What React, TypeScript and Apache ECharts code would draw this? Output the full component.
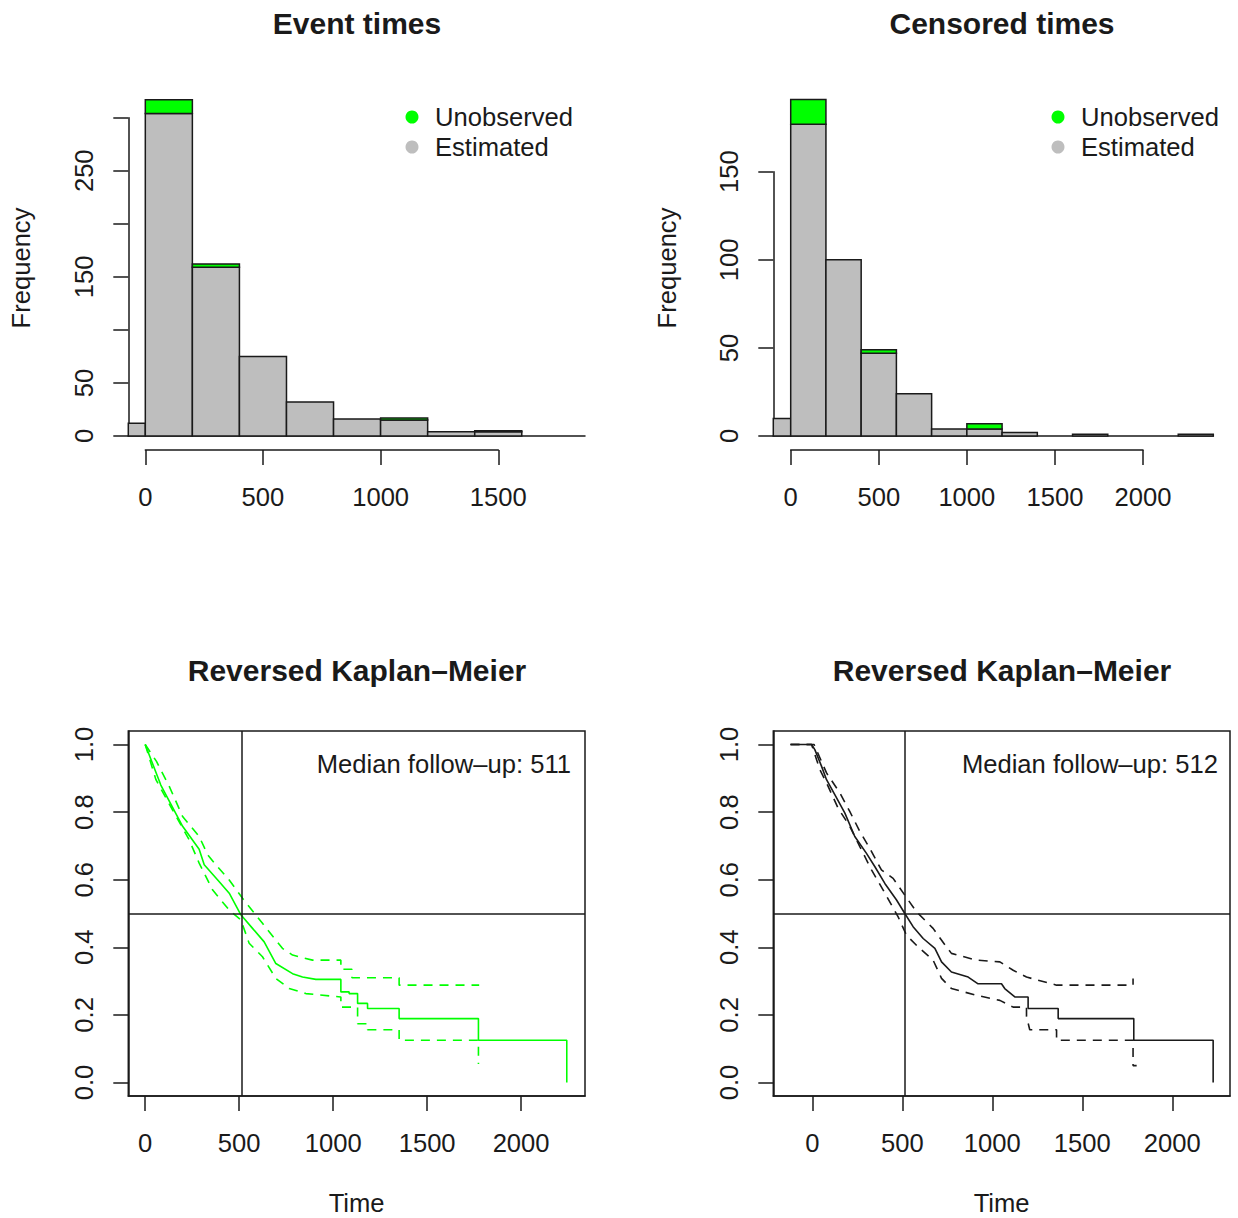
import React, { useEffect, useRef } from 'react';
import * as echarts from 'echarts';

const FONT = '"Liberation Sans", Arial, Helvetica, sans-serif';
const INK = '#1a1a1a';
const GREEN = '#00ff00';
const GREY = '#bebebe';
const FS = 25.6;

// ---------- Histograms (bin width 200) ----------
const BIN_WIDTH = 200;
const eventBinStarts = [-200, 0, 200, 400, 600, 800, 1000, 1200, 1400];
const eventEstimated = [12, 304, 159, 75, 32, 16, 15, 4, 4];
const eventUnobserved = [0, 13, 3, 0, 0, 0, 2, 0, 1];
const eventYLabelsShown = [0, 50, 150, 250];
const eventXTicks = [0, 500, 1000, 1500];

const censBinStarts = [-200, 0, 200, 400, 600, 800, 1000, 1200, 1400, 1600, 1800, 2000, 2200];
const censEstimated = [10, 177, 100, 47, 24, 4, 4, 2, 0, 1, 0, 0, 1];
const censUnobserved = [0, 14, 0, 2, 0, 0, 3, 0, 0, 0, 0, 0, 0];
const censYLabelsShown = [0, 50, 100, 150];
const censXTicks = [0, 500, 1000, 1500, 2000];

// ---------- Reversed Kaplan-Meier curves ----------
const kmXTicks = [0, 500, 1000, 1500, 2000];
const kmYTicks = [0, 0.2, 0.4, 0.6, 0.8, 1.0];

const eventMedian = 511;
const eventKmTime = [0, 83, 199, 287, 314, 394, 447, 509, 571, 633, 695, 784, 837, 908, 1041, 1041, 1085, 1085, 1130, 1130, 1183, 1183, 1351, 1351, 1773, 1773, 2243, 2243];
const eventKmSurv = [1.0, 0.88, 0.758, 0.69, 0.644, 0.594, 0.56, 0.496, 0.456, 0.416, 0.352, 0.322, 0.312, 0.305, 0.305, 0.268, 0.268, 0.263, 0.263, 0.234, 0.234, 0.219, 0.219, 0.189, 0.189, 0.125, 0.125, 0.0];
const eventUpTime = [0, 60, 128, 199, 287, 332, 376, 447, 518, 624, 730, 784, 890, 1041, 1041, 1100, 1100, 1351, 1351, 1777];
const eventUpSurv = [1.0, 0.95, 0.876, 0.787, 0.728, 0.674, 0.644, 0.599, 0.545, 0.471, 0.397, 0.377, 0.362, 0.362, 0.335, 0.335, 0.31, 0.31, 0.288, 0.288];
const eventLoTime = [0, 57, 145, 234, 287, 358, 447, 509, 553, 624, 695, 766, 855, 1041, 1041, 1130, 1130, 1183, 1183, 1351, 1351, 1773, 1773];
const eventLoSurv = [1.0, 0.896, 0.807, 0.718, 0.649, 0.57, 0.51, 0.481, 0.412, 0.372, 0.308, 0.278, 0.263, 0.253, 0.223, 0.223, 0.174, 0.174, 0.156, 0.156, 0.125, 0.125, 0.055];

const censMedian = 512;
const censKmTime = [-121, -4, 14, 51, 79, 125, 181, 236, 301, 347, 403, 468, 514, 560, 616, 681, 718, 773, 866, 921, 1051, 1069, 1125, 1199, 1199, 1366, 1366, 1786, 1786, 2227, 2227];
const censKmSurv = [1.0, 1.0, 0.985, 0.936, 0.896, 0.852, 0.797, 0.728, 0.678, 0.639, 0.589, 0.54, 0.5, 0.461, 0.426, 0.397, 0.357, 0.327, 0.312, 0.292, 0.292, 0.278, 0.253, 0.253, 0.219, 0.219, 0.189, 0.189, 0.125, 0.125, 0.0];
const censUpTime = [-121, 10, 79, 153, 208, 264, 319, 384, 449, 514, 579, 671, 745, 773, 912, 1042, 1116, 1190, 1357, 1782, 1782];
const censUpSurv = [1.0, 1.0, 0.916, 0.857, 0.802, 0.743, 0.693, 0.629, 0.604, 0.554, 0.505, 0.456, 0.401, 0.382, 0.362, 0.357, 0.332, 0.312, 0.288, 0.288, 0.308];
const censLoTime = [-121, -4, 42, 88, 143, 208, 264, 329, 393, 477, 523, 588, 671, 718, 773, 912, 1042, 1116, 1190, 1190, 1208, 1357, 1357, 1782, 1782, 1802];
const censLoSurv = [1.0, 1.0, 0.926, 0.876, 0.812, 0.758, 0.698, 0.629, 0.57, 0.49, 0.436, 0.401, 0.362, 0.308, 0.278, 0.258, 0.243, 0.223, 0.223, 0.196, 0.156, 0.156, 0.125, 0.125, 0.05, 0.05];

const pairs = (t: number[], s: number[]) => t.map((x, i) => [x, s[i]]);

const estRects = (starts: number[], est: number[]) =>
  starts.map((s, i) => [s, s + BIN_WIDTH, 0, est[i]]).filter((d) => d[3] > 0);
const unobsRects = (starts: number[], est: number[], un: number[]) =>
  starts.map((s, i) => [s, s + BIN_WIDTH, est[i], est[i] + un[i]]).filter((d, i) => un[i] > 0);

const histRender = (fill: string) => (params: any, api: any) => {
  const a = api.coord([api.value(0), api.value(2)]);
  const b = api.coord([api.value(1), api.value(3)]);
  const cs = params.coordSys;
  const x0 = Math.max(a[0], cs.x);
  const x1 = Math.min(b[0], cs.x + cs.width);
  return {
    type: 'rect',
    shape: { x: x0, y: b[1], width: x1 - x0, height: a[1] - b[1] },
    style: { fill, stroke: INK, lineWidth: 1.5 },
  };
};

const textStyle = { fontFamily: FONT, fontSize: FS, color: INK };

function App() {
  const ref = useRef<HTMLDivElement>(null);
  useEffect(() => {
    if (!ref.current) return;
    const chart = echarts.init(ref.current, undefined, { renderer: 'svg' });

    const axisLine = { show: true, onZero: false, lineStyle: { color: INK, width: 1.5 } };
    const axisTick = { show: true, length: 15, lineStyle: { color: INK, width: 1.5 } };
    const hidden = { show: false };

    const histMainX = (min: number, max: number, gi: number) => ({
      type: 'value', gridIndex: gi, min, max,
      axisLine,
      axisTick: hidden, axisLabel: hidden, splitLine: hidden,
    });
    const histAxisX = (max: number, gi: number, ticks: number[]) => ({
      type: 'value', gridIndex: gi, min: 0, max, interval: 500, position: 'bottom',
      axisLine, axisTick,
      axisLabel: { ...textStyle, margin: 34, formatter: (v: number) => (ticks.includes(v) ? String(v) : '') },
      splitLine: hidden,
    });
    const histY = (max: number, gi: number, shown: number[]) => ({
      type: 'value', gridIndex: gi, min: 0, max, interval: 50,
      axisLine, axisTick,
      axisLabel: { ...textStyle, rotate: 90, margin: 31.5, formatter: (v: number) => (shown.includes(v) ? String(v) : '') },
      splitLine: hidden,
    });
    const kmX = (min: number, max: number, gi: number) => ({
      type: 'value', gridIndex: gi, min, max,
      name: 'Time', nameLocation: 'middle', nameGap: 94, nameTextStyle: { ...textStyle },
      axisLine,
      axisTick: { ...axisTick, customValues: kmXTicks },
      axisLabel: { ...textStyle, margin: 34, customValues: kmXTicks, formatter: (v: number) => String(v) },
      splitLine: hidden,
    });
    const kmY = (gi: number) => ({
      type: 'value', gridIndex: gi, min: -0.04, max: 1.04,
      axisLine,
      axisTick: { ...axisTick, customValues: kmYTicks },
      axisLabel: { ...textStyle, rotate: 90, margin: 31.5, customValues: kmYTicks, formatter: (v: number) => v.toFixed(1) },
      splitLine: hidden,
    });

    const kmLine = (name: string, idx: number, t: number[], s: number[], color: string, dashed: boolean, median?: number) => ({
      type: 'line', name, xAxisIndex: idx, yAxisIndex: idx,
      data: pairs(t, s), showSymbol: false, symbol: 'none', silent: true,
      lineStyle: { color, width: 1.6, type: dashed ? [9, 7] : 'solid' },
      z: 3,
      ...(median !== undefined
        ? {
            markLine: {
              silent: true, symbol: 'none', label: { show: false },
              lineStyle: { color: INK, width: 1.5, type: 'solid' },
              data: [{ xAxis: median }, { yAxis: 0.5 }],
            },
          }
        : {}),
    });

    const histSeries = (name: string, idx: number, data: number[][], fill: string) => ({
      type: 'custom', name, xAxisIndex: idx, yAxisIndex: idx,
      data, encode: { x: [0, 1], y: [2, 3] }, clip: false,
      itemStyle: { color: fill },
      renderItem: histRender(fill), silent: true, z: 2,
    });

    const legendCfg = (left: number) => ({
      data: ['Unobserved', 'Estimated'], orient: 'vertical', left, top: 104,
      itemWidth: 36, itemHeight: 13, itemGap: 4, icon: 'circle', padding: 0,
      selectedMode: false, textStyle: { ...textStyle },
    });

    const titleText = (text: string, x: number, y: number) => ({
      type: 'text', x, y, silent: true,
      style: { text, align: 'center', verticalAlign: 'middle', fontFamily: FONT, fontSize: 30, fontWeight: 'bold', fill: INK },
    });
    const noteText = (text: string, x: number, y: number) => ({
      type: 'text', x, y, silent: true,
      style: { text, align: 'right', verticalAlign: 'middle', fontFamily: FONT, fontSize: FS, fill: INK },
    });
    const sideText = (text: string, x: number, y: number) => ({
      type: 'text', x, y, rotation: Math.PI / 2, silent: true,
      style: { text, align: 'center', verticalAlign: 'middle', fontFamily: FONT, fontSize: FS, fill: INK },
    });

    const gridBase = { containLabel: false, outerBoundsMode: 'none' };

    chart.setOption({
      animation: false,
      backgroundColor: '#ffffff',
      grid: [
        { ...gridBase, left: 128.3, top: 117.7, width: 456.7, height: 318.3 },
        { ...gridBase, left: 145.3, top: 449, width: 353, height: 1 },
        { ...gridBase, left: 773.3, top: 171.7, width: 440, height: 264.3 },
        { ...gridBase, left: 790.7, top: 449, width: 352.3, height: 1 },
        { ...gridBase, left: 128.3, top: 731, width: 456.7, height: 365, show: true, borderColor: INK, borderWidth: 1.5, backgroundColor: 'transparent' },
        { ...gridBase, left: 773.3, top: 731, width: 456.7, height: 365, show: true, borderColor: INK, borderWidth: 1.5, backgroundColor: 'transparent' },
      ],
      xAxis: [
        histMainX(-72.3, 1868.7, 0),
        histAxisX(1500, 1, eventXTicks),
        histMainX(-98.8, 2399, 2),
        histAxisX(2000, 3, censXTicks),
        kmX(-90, 2340, 4),
        kmX(-216.7, 2320.6, 5),
      ],
      yAxis: [
        histY(300, 0, eventYLabelsShown),
        { type: 'value', gridIndex: 1, min: 0, max: 1, show: false },
        histY(150, 2, censYLabelsShown),
        { type: 'value', gridIndex: 3, min: 0, max: 1, show: false },
        kmY(4),
        kmY(5),
      ],
      legend: [legendCfg(405.5), legendCfg(1051.5)],
      graphic: [
        titleText('Event times', 357, 23),
        titleText('Censored times', 1002, 23),
        titleText('Reversed Kaplan–Meier', 357, 670),
        titleText('Reversed Kaplan–Meier', 1002, 670),
        sideText('Frequency', 21, 268),
        sideText('Frequency', 667, 268),
        noteText(`Median follow–up: ${eventMedian}`, 571, 764),
        noteText(`Median follow–up: ${censMedian}`, 1218, 764),
      ],
      series: [
        histSeries('Estimated', 0, estRects(eventBinStarts, eventEstimated), GREY),
        histSeries('Unobserved', 0, unobsRects(eventBinStarts, eventEstimated, eventUnobserved), GREEN),
        histSeries('Estimated', 2, estRects(censBinStarts, censEstimated), GREY),
        histSeries('Unobserved', 2, unobsRects(censBinStarts, censEstimated, censUnobserved), GREEN),
        kmLine('Event KM', 4, eventKmTime, eventKmSurv, GREEN, false, eventMedian),
        kmLine('Event KM upper', 4, eventUpTime, eventUpSurv, GREEN, true),
        kmLine('Event KM lower', 4, eventLoTime, eventLoSurv, GREEN, true),
        kmLine('Censored KM', 5, censKmTime, censKmSurv, INK, false, censMedian),
        kmLine('Censored KM upper', 5, censUpTime, censUpSurv, INK, true),
        kmLine('Censored KM lower', 5, censLoTime, censLoSurv, INK, true),
      ],
    });
    return () => chart.dispose();
  }, []);
  return <div ref={ref} style={{ position: 'absolute', left: 0, top: 0, width: 1238, height: 1218 }} />;
}

export default App;
